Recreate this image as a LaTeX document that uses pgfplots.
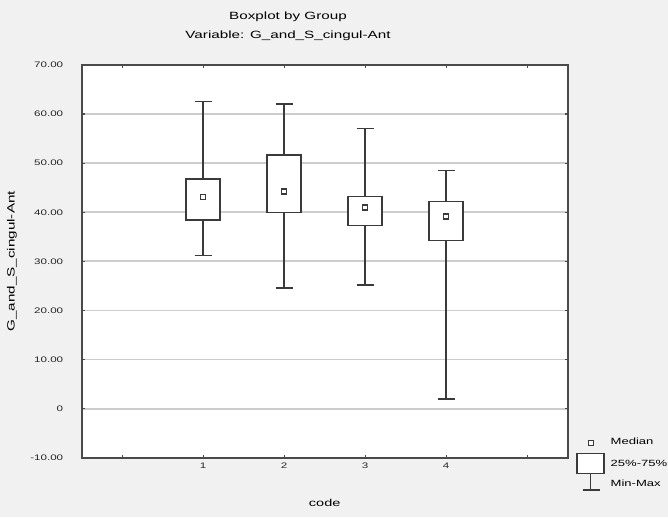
\documentclass[border=0pt]{standalone}
\usepackage{pgfplots}
\pgfplotsset{compat=1.18}
\usepgfplotslibrary{statistics}
\usepackage{fontspec}
\setmainfont{Liberation Sans}[FakeStretch=1.45]
\definecolor{bg}{HTML}{F1F1F1}
\definecolor{dk}{HTML}{3A3A3A}
\definecolor{fr}{HTML}{4A4A4A}
\definecolor{gr}{HTML}{CDCDCD}
\begin{document}
\begin{tikzpicture}[x=1pt,y=1pt]
\useasboundingbox (0,0) rectangle (668,517);
\fill[bg] (0,0) rectangle (668,517);
\begin{axis}[
  at={(81.7pt,59.3pt)}, anchor=south west,
  scale only axis, width=486pt, height=392.7pt,
  axis background/.style={fill=white},
  xmin=-0.5, xmax=5.5, ymin=-10, ymax=70,
  xtick={0,1,2,3,4,5}, xticklabels={,1,2,3,4,},
  ytick={-10,0,10,20,30,40,50,60,70},
  yticklabels={-10.00,0,10.00,20.00,30.00,40.00,50.00,60.00,70.00},
  /pgf/number format/assume math mode=true,
  tick align=inside, major tick length=3pt,
  tick style={fr, line width=1.3pt},
  axis line style={fr, line width=1.6pt},
  ymajorgrids, grid style={gr, line width=1.8pt},
  ticklabel style={font=\fontsize{8}{9.6}\selectfont, text=black!85},
  yticklabel style={xshift=-15pt},
  xticklabel style={yshift=-2pt},
  title={Boxplot by Group\\Variable: G\_and\_S\_cingul-Ant},
  title style={align=center, font=\fontsize{10.5}{19}\selectfont, at={(axis description cs:0.4245,1.0835)}, anchor=center},
  xlabel={code},
  xlabel style={font=\fontsize{10}{12}\selectfont, at={(axis description cs:0.5,-0.1154)}, anchor=center},
  ylabel={G\_and\_S\_cingul-Ant},
  ylabel style={font=\fontsize{10.5}{12}\selectfont, at={(axis description cs:-0.1434,0.5)}, anchor=center},
  boxplot/draw direction=y,
  boxplot/box extend=0.42,
  boxplot/whisker extend=0.21,
  boxplot/draw/median/.code={},
  clip=false,
]
\addplot[dk, line width=1.5pt, fill=white, boxplot prepared={draw position=1,
  lower whisker=31.2, lower quartile=38.4, median=43.05, upper quartile=46.8, upper whisker=62.6}]
  coordinates {};
\addplot[dk, line width=1.5pt, fill=white, boxplot prepared={draw position=2,
  lower whisker=24.6, lower quartile=40.0, median=44.2, upper quartile=51.7, upper whisker=62.1}]
  coordinates {};
\addplot[dk, line width=1.5pt, fill=white, boxplot prepared={draw position=3,
  lower whisker=25.2, lower quartile=37.3, median=41.0, upper quartile=43.2, upper whisker=57.1}]
  coordinates {};
\addplot[dk, line width=1.5pt, fill=white, boxplot prepared={draw position=4,
  lower whisker=2.0, lower quartile=34.2, median=39.1, upper quartile=42.2, upper whisker=48.5}]
  coordinates {};
\addplot[only marks, mark=square*, mark size=2.5pt, mark options={draw=dk, fill=white, line width=1.4pt}]
  coordinates {(1,43.05) (2,44.2) (3,41.0) (4,39.1)};
\end{axis}
% legend
\draw[dk, line width=1.4pt, fill=white] (588.5,71.8) rectangle (593.5,76.8);
\node[anchor=west, font=\fontsize{9}{11}\selectfont, inner sep=0pt] at (610.5,75.3) {Median};
\draw[dk, line width=1.6pt, fill=white] (577,43.7) rectangle (604,63.7);
\node[anchor=west, font=\fontsize{9}{11}\selectfont, inner sep=0pt] at (610.5,54) {25\%-75\%};
\draw[dk, line width=1.5pt] (590.5,43.7) -- (590.5,27);
\draw[dk, line width=1.5pt] (582.7,27) -- (600,27);
\node[anchor=west, font=\fontsize{9}{11}\selectfont, inner sep=0pt] at (610.5,34) {Min-Max};
\end{tikzpicture}
\end{document}
